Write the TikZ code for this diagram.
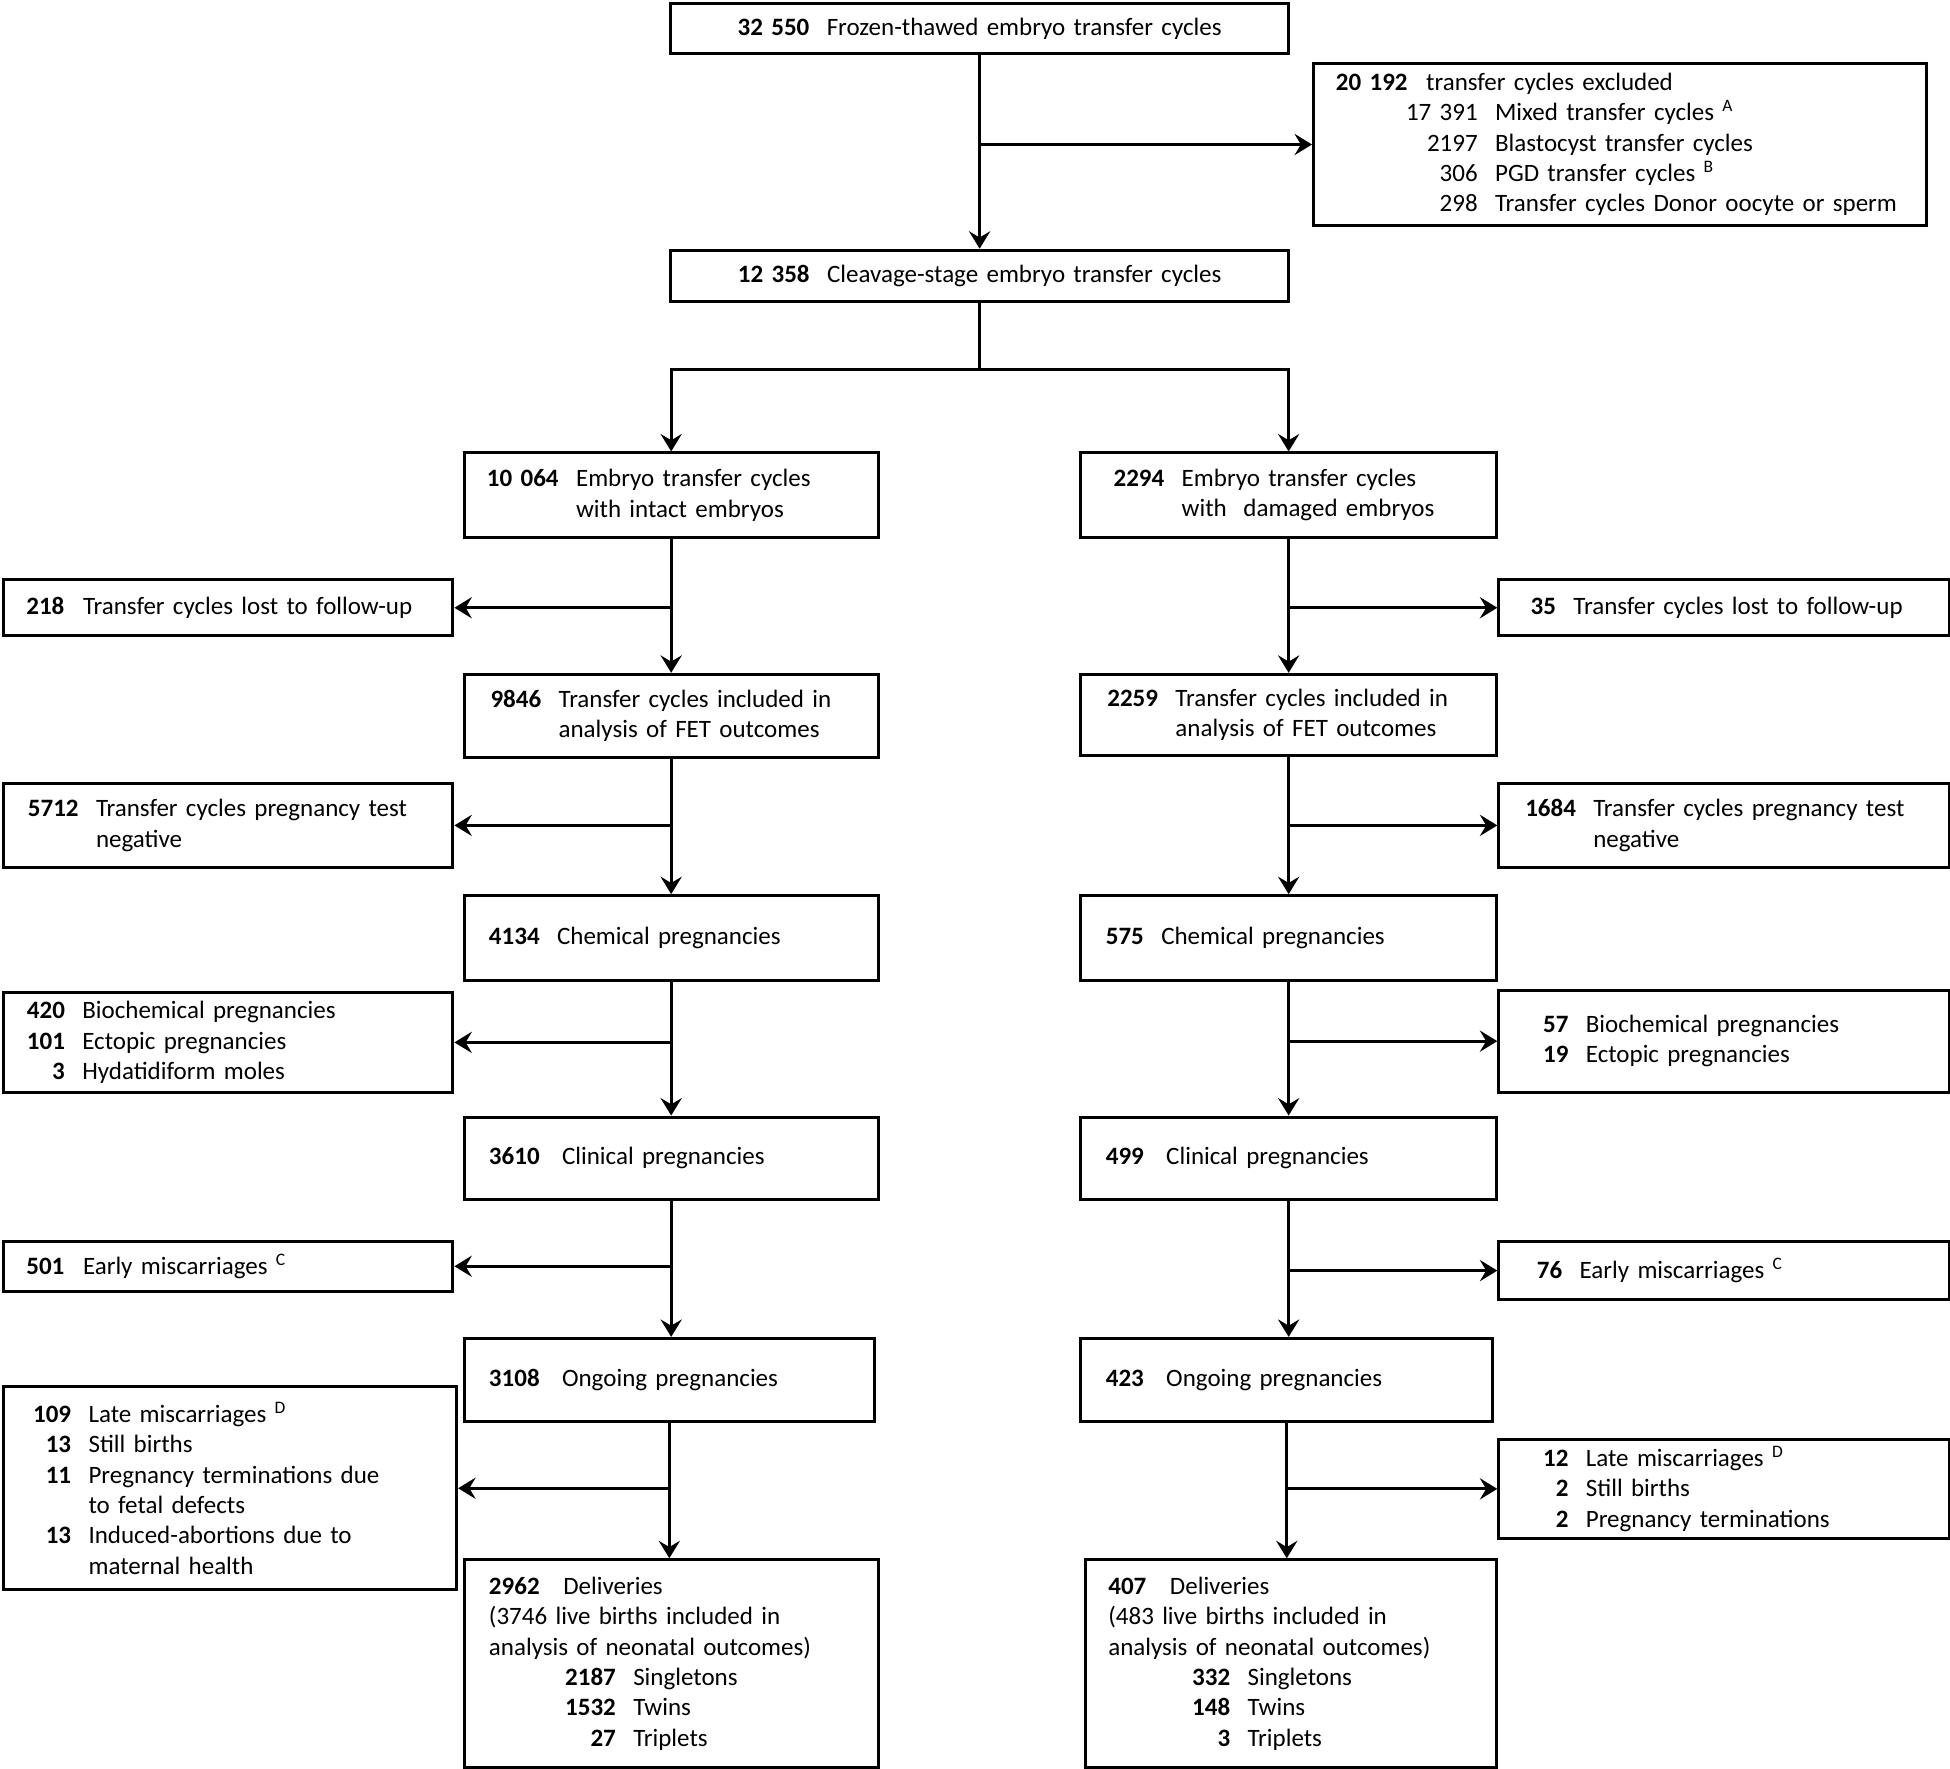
\documentclass[tikz,border=0pt]{standalone}
\usepackage{fontspec}
\setmainfont{Carlito}
\usepackage{tikz}
\usetikzlibrary{arrows.meta}
\tikzset{box/.style={draw, line width=1.2pt, anchor=north west, align=left,
  inner xsep=10pt, inner ysep=0pt, font=\fontsize{10.05}{12.2}\selectfont}}
\tikzset{side/.style={box, inner xsep=9pt, text width=162.5pt}}
\tikzset{arr/.style={line width=1.2pt, -{Stealth[length=7pt,width=8.5pt,inset=2.5pt]}}}
\newcommand{\nr}[2]{\makebox[#1][r]{#2}\hspace{7pt}}

\begin{document}
\begin{tikzpicture}[x=0.5pt, y=-0.5pt]
    \useasboundingbox (0,0) rectangle (1568,1422);
    \node[box, align=center, text width=228.5pt, minimum height=20pt] (All) at (538,2)
      {\textbf{32 550}\hspace{7pt}Frozen-thawed embryo transfer cycles};
    \node[box, inner xsep=9pt, text width=228.5pt, minimum height=65pt] (Excl) at (1055,50)
      {\textbf{20 192}\hspace{7.5pt}transfer cycles excluded\\
       \nr{57pt}{17 391}Mixed transfer cycles \textsuperscript{A}\\
       \nr{57pt}{2197}Blastocyst transfer cycles\\
       \nr{57pt}{306}PGD transfer cycles \textsuperscript{B}\\
       \mbox{\nr{57pt}{298}Transfer cycles Donor oocyte or sperm}};
    \node[box, align=center, text width=228.5pt, minimum height=20.5pt] (Cleav) at (538,200)
      {\textbf{12 358}\hspace{7pt}Cleavage-stage embryo transfer cycles};

    \node[box, text width=146.5pt, minimum height=34pt] (I1) at (372,363)
      {\nr{28pt}{\textbf{10 064}}Embryo transfer cycles\\\nr{28pt}{}with intact embryos};
    \node[box, text width=146.5pt, minimum height=33.5pt] (I2) at (372,541)
      {\nr{21pt}{\textbf{9846}}Transfer cycles included in\\\nr{21pt}{}analysis of FET outcomes};
    \node[box, text width=146.5pt, minimum height=34pt] (I3) at (372,719)
      {\textbf{4134}\hspace{7pt}Chemical pregnancies};
    \node[box, text width=146.5pt, minimum height=33pt] (I4) at (372,897)
      {\textbf{3610}\hspace{9pt}Clinical pregnancies};
    \node[box, text width=145pt, minimum height=33.5pt] (I5) at (372,1075)
      {\textbf{3108}\hspace{9pt}Ongoing pregnancies};
    \node[box, text width=146.5pt, minimum height=83.5pt] (I6) at (372,1253)
      {\textbf{2962}\hspace{9.5pt}Deliveries\\
       (3746 live births included in\\
       analysis of neonatal outcomes)\\
       \nr{51pt}{\textbf{2187}}Singletons\\
       \nr{51pt}{\textbf{1532}}Twins\\
       \nr{51pt}{\textbf{27}}Triplets};

    \node[box, text width=147pt, minimum height=34pt] (D1) at (868,363)
      {\nr{23.5pt}{\textbf{2294}}Embryo transfer cycles\\\nr{23.5pt}{}with~ damaged embryos};
    \node[box, text width=147pt, minimum height=32.5pt] (D2) at (868,541)
      {\nr{21pt}{\textbf{2259}}Transfer cycles included in\\\nr{21pt}{}analysis of FET outcomes};
    \node[box, text width=147pt, minimum height=34pt] (D3) at (868,719)
      {\textbf{575}\hspace{7pt}Chemical pregnancies};
    \node[box, text width=147pt, minimum height=33pt] (D4) at (868,897)
      {\textbf{499}\hspace{9pt}Clinical pregnancies};
    \node[box, text width=145.5pt, minimum height=33.5pt] (D5) at (868,1075)
      {\textbf{423}\hspace{9pt}Ongoing pregnancies};
    \node[box, inner xsep=9pt, text width=147pt, minimum height=83.5pt] (D6) at (872,1253)
      {\textbf{407}\hspace{9.5pt}Deliveries\\
       (483 live births included in\\
       analysis of neonatal outcomes)\\
       \nr{49pt}{\textbf{332}}Singletons\\
       \nr{49pt}{\textbf{148}}Twins\\
       \nr{49pt}{\textbf{3}}Triplets};

    \node[side, minimum height=22.5pt] (Ix1) at (2,465)
      {\textbf{218}\hspace{7.5pt}Transfer cycles lost to follow-up};
    \node[side, minimum height=33.5pt] (Ix2) at (2,629)
      {\nr{21pt}{\textbf{5712}}Transfer cycles pregnancy test\\\nr{21pt}{}negative};
    \node[side, minimum height=40pt] (Ix3) at (2,797)
      {\nr{15.5pt}{\textbf{420}}Biochemical pregnancies\\
       \nr{15.5pt}{\textbf{101}}Ectopic pregnancies\\
       \nr{15.5pt}{\textbf{3}}Hydatidiform moles};
    \node[side, minimum height=20pt] (Ix4) at (2,997)
      {\textbf{501}\hspace{7.5pt}Early miscarriages \textsuperscript{C}};
    \node[side, text width=164pt, minimum height=81.5pt] (Ix5) at (2,1114)
      {\nr{18pt}{\textbf{109}}Late miscarriages \textsuperscript{D}\\
       \nr{18pt}{\textbf{13}}Still births\\
       \nr{18pt}{\textbf{11}}Pregnancy terminations due\\
       \nr{18pt}{}to fetal defects\\
       \nr{18pt}{\textbf{13}}Induced-abortions due to\\
       \nr{18pt}{}maternal health};

    \node[box, text width=161pt, minimum height=22.5pt] (Dx1) at (1204,465)
      {\nr{13pt}{\textbf{35}}Transfer cycles lost to follow-up};
    \node[box, text width=161pt, minimum height=33.5pt] (Dx2) at (1204,629)
      {\nr{21pt}{\textbf{1684}}Transfer cycles pregnancy test\\\nr{21pt}{}negative};
    \node[box, text width=161pt, minimum height=41pt] (Dx3) at (1204,795)
      {\nr{18pt}{\textbf{57}}Biochemical pregnancies\\
       \nr{18pt}{\textbf{19}}Ectopic pregnancies};
    \node[box, text width=161pt, minimum height=23.5pt] (Dx4) at (1204,997)
      {\nr{15.5pt}{\textbf{76}}Early miscarriages \textsuperscript{C}};
    \node[box, text width=161pt, minimum height=40pt] (Dx5) at (1204,1156)
      {\nr{18pt}{\textbf{12}}Late miscarriages \textsuperscript{D}\\
       \nr{18pt}{\textbf{2}}Still births\\
       \nr{18pt}{\textbf{2}}Pregnancy terminations};

    \draw[arr] (All) -- (Cleav);
    \draw[arr] (All.south |- Excl.west) -- (Excl.west);
    \draw[line width=1.2pt] (Cleav.south) -- ++(0,54) coordinate (sp);
    \draw[arr] (sp) -| (I1.north);
    \draw[arr] (sp) -| (D1.north);

    \draw[arr] (I1.south) -- (I1.south |- I2.north);
    \draw[arr] (I2.south) -- (I2.south |- I3.north);
    \draw[arr] (I3.south) -- (I3.south |- I4.north);
    \draw[arr] (I4.south) -- (I4.south |- I5.north);
    \draw[arr] (I5.south) -- (I5.south |- I6.north);
    \draw[arr] (D1.south) -- (D1.south |- D2.north);
    \draw[arr] (D2.south) -- (D2.south |- D3.north);
    \draw[arr] (D3.south) -- (D3.south |- D4.north);
    \draw[arr] (D4.south) -- (D4.south |- D5.north);
    \draw[arr] (D5.south) -- (D5.south |- D6.north);

    \draw[arr] (I1.south |- Ix1.east) -- (Ix1.east);
    \draw[arr] (I2.south |- Ix2.east) -- (Ix2.east);
    \draw[arr] (I3.south |- Ix3.east) -- (Ix3.east);
    \draw[arr] (I4.south |- Ix4.east) -- (Ix4.east);
    \draw[arr] (I5.south |- Ix5.east) -- (Ix5.east);
    \draw[arr] (D1.south |- Dx1.west) -- (Dx1.west);
    \draw[arr] (D2.south |- Dx2.west) -- (Dx2.west);
    \draw[arr] (D3.south |- Dx3.west) -- (Dx3.west);
    \draw[arr] (D4.south |- Dx4.west) -- (Dx4.west);
    \draw[arr] (D5.south |- Dx5.west) -- (Dx5.west);
\end{tikzpicture}
\end{document}
